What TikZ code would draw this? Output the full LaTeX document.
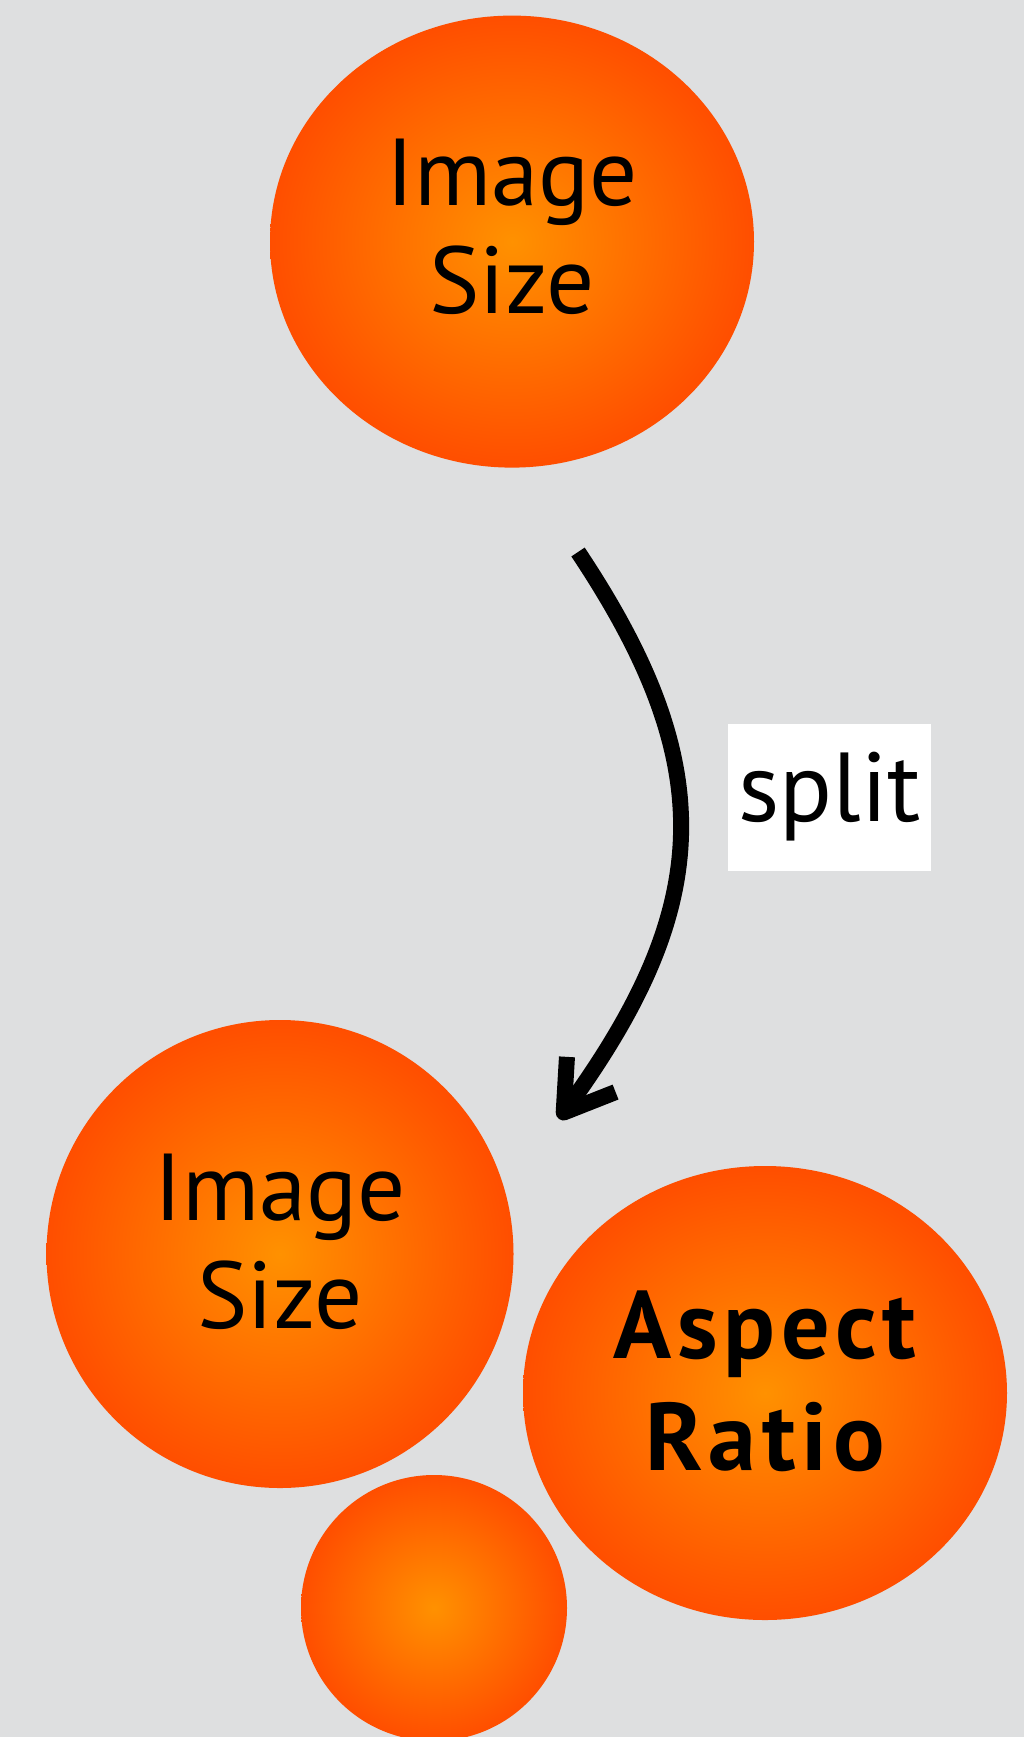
\documentclass[tikz,border=0pt]{standalone}
\usepackage{fontspec}
\setmainfont{PT Sans}
\usetikzlibrary{shapes.geometric,arrows.meta}
\definecolor{bg}{RGB}{222,223,224}
\definecolor{orin}{RGB}{255,145,0}
\definecolor{orout}{RGB}{255,78,0}
\begin{document}
\begin{tikzpicture}[x=1pt,y=-1pt,
  blob/.style={ellipse, inner sep=0pt, outer sep=0pt, shade, shading=radial, inner color=orin, outer color=orout},
  words/.style={font=\fontsize{95}{108}\selectfont, align=center, text=black, inner sep=0pt},
  boldwords/.style={words, font=\fontsize{96}{112}\selectfont\bfseries\addfontfeature{LetterSpace=6}},
  lab/.style={fill=white, minimum width=203pt, minimum height=147pt, inner sep=0pt, font=\fontsize{98}{98}\selectfont},
  conn/.style={line width=16pt, -{Straight Barb[length=47pt, width=60pt, line cap=butt, line join=round]}}]
\fill[bg] (0,0) rectangle (1024,1737);
\useasboundingbox (0,0) rectangle (1024,1737);
% nodes
\node[blob, minimum width=484pt, minimum height=452pt] (top) at (512,241.6) {};
\node[words] (toptext) at ([yshift=15pt]top.center) {Image\\Size};
\node[blob, minimum width=467pt, minimum height=468pt] (left) at (280,1254) {};
\node[words] (lefttext) at ([yshift=12pt]left.center) {Image\\Size};
\node[blob, minimum width=484pt, minimum height=454pt] (right) at (765,1393) {};
\node[boldwords] (righttext) at ([yshift=12pt]right.center) {Aspect\\Ratio};
\node[blob, minimum width=266pt, minimum height=266pt] (small) at (434,1608) {};
% connector
\coordinate (s) at (578,552);
\coordinate (e) at (559,1119);
\draw[conn] (s) .. controls (720,765) and (714,905) .. (e);
\node[lab] (split) at (829.5,797) {split};
\end{tikzpicture}
\end{document}
